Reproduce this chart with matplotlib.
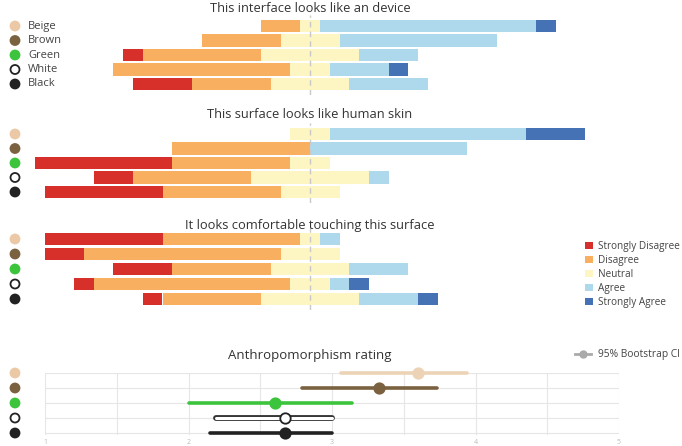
import matplotlib
matplotlib.use('Agg')
import matplotlib.pyplot as plt
from matplotlib.transforms import blended_transform_factory
from matplotlib.lines import Line2D
from matplotlib.patches import Patch
import numpy as np

plt.rcParams['font.family'] = ['Open Sans', 'DejaVu Sans']

# ----- data -----
categories = ['Beige', 'Brown', 'Green', 'White', 'Black']
levels = ['Strongly Disagree', 'Disagree', 'Neutral', 'Agree', 'Strongly Agree']

titles = ['This interface looks like an device',
          'This surface looks like human skin',
          'It looks comfortable touching this surface']

# answer counts per category (SD, D, N, A, SA)
device = [[0, 2, 1, 11, 1],
          [0, 4, 3, 8, 0],
          [1, 6, 5, 3, 0],
          [0, 9, 2, 3, 1],
          [3, 4, 4, 4, 0]]
skin = [[0, 0, 2, 10, 3],
        [0, 7, 0, 8, 0],
        [7, 6, 2, 0, 0],
        [2, 6, 6, 1, 0],
        [6, 6, 3, 0, 0]]
comfort = [[6, 7, 1, 1, 0],
           [2, 10, 3, 0, 0],
           [3, 5, 4, 3, 0],
           [1, 10, 2, 1, 1],
           [1, 5, 5, 3, 1]]

rating_mean = [3.60, 3.33, 2.60, 2.67, 2.67]
rating_lo = [3.06, 2.79, 2.00, 2.19, 2.15]
rating_hi = [3.94, 3.73, 3.14, 3.00, 3.00]

# ----- styles -----
likert_colors = ['#d7302a', '#f8b060', '#fdf6c2', '#aed8ec', '#4472b4']
cat_face = ['#ecc9a6', '#7a6240', '#3cc43c', 'white', '#222222']
cat_edge = ['#ecc9a6', '#7a6240', '#3cc43c', '#222222', '#222222']
ci_colors = ['#edd3b6', '#7a6240', '#3cc43c', 'white', '#222222']

W, H = 682, 446
fig = plt.figure(figsize=(W / 100, H / 100), dpi=100)


def add_px_axes(x0, y0, x1, y1):
    return fig.add_axes([x0 / W, 1 - y1 / H, (x1 - x0) / W, (y1 - y0) / H])


def row_markers(ax):
    tr = blended_transform_factory(fig.transFigure, ax.transData)
    ax.scatter([15 / W] * len(categories), range(len(categories)), s=42,
               c=cat_face, edgecolors=cat_edge, linewidths=1.3,
               transform=tr, clip_on=False, zorder=5)


panels = [device, skin, comfort]
first_rows = [26, 134, 239]
spacings = [14.5, 14.5, 15]
title_y = [8, 115, 225]

for p, counts in enumerate(panels):
    r0, sp = first_rows[p], spacings[p]
    ax = add_px_axes(15, r0 - 0.75 * sp, 605, r0 + 4.75 * sp)
    counts = np.array(counts, dtype=float)
    start = -(counts[:, 0] + counts[:, 1] + counts[:, 2] / 2)
    left = start.copy()
    y = np.arange(len(categories))
    for k in range(len(levels)):
        ax.barh(y, counts[:, k], left=left, height=0.83,
                color=likert_colors[k], linewidth=0)
        left = left + counts[:, k]
    ax.axvline(0, color='#c8c8c8', lw=1, ls=(0, (4, 3)), zorder=4)
    ax.set_xlim(-15, 15)
    ax.set_ylim(4.75, -0.75)
    ax.axis('off')
    row_markers(ax)
    fig.text(310 / W, 1 - title_y[p] / H, titles[p], ha='center', va='center',
             fontsize=9.3, color='#333333')
    if p == 0:
        tr = blended_transform_factory(fig.transFigure, ax.transData)
        for i, c in enumerate(categories):
            ax.text(28 / W, i, c, transform=tr, va='center', ha='left',
                    fontsize=8, color='#444444')

# likert legend
handles = [Patch(facecolor=c, edgecolor='none') for c in likert_colors]
fig.legend(handles, levels, loc='upper left',
           bbox_to_anchor=(580 / W, 1 - 236 / H), frameon=False,
           fontsize=7.2, handlelength=0.8, handleheight=0.8,
           handletextpad=0.5, labelspacing=0.3, borderpad=0,
           labelcolor='#444444')

# ----- anthropomorphism rating -----
ax = add_px_axes(45, 373, 619, 433 + 0.15 * 15)
y = np.arange(len(categories))
for i in range(len(categories)):
    if cat_face[i] == 'white':
        ax.plot([rating_lo[i], rating_hi[i]], [i, i], color='#333333',
                lw=4.2, solid_capstyle='round', zorder=3, clip_on=False)
        ax.plot([rating_lo[i], rating_hi[i]], [i, i], color='white',
                lw=2.2, solid_capstyle='round', zorder=3, clip_on=False)
    else:
        ax.plot([rating_lo[i], rating_hi[i]], [i, i], color=ci_colors[i],
                lw=2.6, solid_capstyle='round', zorder=3, clip_on=False)
    ax.plot(rating_mean[i], i, 'o', ms=7.5, mfc=ci_colors[i],
            mec=cat_edge[i] if i == 3 else ci_colors[i], mew=1.3, zorder=4,
            clip_on=False)
ax.set_xlim(1, 5)
ax.set_ylim(4.15, 0)
ticks = np.arange(1, 5.01, 0.5)
ax.set_xticks(ticks)
ax.set_xticklabels(['' if t % 1 else str(int(t)) for t in ticks])
ax.set_yticks(y)
ax.set_yticklabels([])
ax.grid(True, color='#e6e6e6', lw=0.8)
ax.tick_params(length=0, labelsize=5, labelcolor='#bbbbbb', pad=3)
for s in ax.spines.values():
    s.set_visible(False)
row_markers(ax)
fig.text(310 / W, 1 - 355 / H, 'Anthropomorphism rating', ha='center',
         va='center', fontsize=9.5, color='#333333')

ci_handle = Line2D([], [], color='#aaaaaa', lw=2, marker='o', ms=5)
fig.legend([ci_handle], ['95% Bootstrap CI'], loc='center left',
           bbox_to_anchor=(570 / W, 1 - 355 / H), frameon=False, fontsize=7.4,
           handlelength=1.5, handletextpad=0.7, borderpad=0,
           labelcolor='#444444')

fig.savefig('out.png', dpi=100)
